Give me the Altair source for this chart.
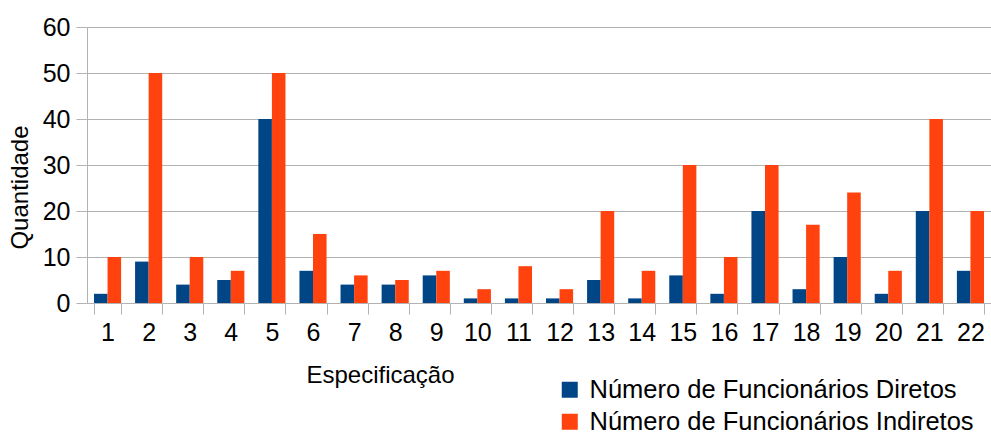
import altair as alt
import pandas as pd

specs = [str(i) for i in range(1, 23)]
diretos = [2, 9, 4, 5, 40, 7, 4, 4, 6, 1, 1, 1, 5, 1, 6, 2, 20, 3, 10, 2, 20, 7]
indiretos = [10, 50, 10, 7, 50, 15, 6, 5, 7, 3, 8, 3, 20, 7, 30, 10, 30, 17, 24, 7, 40, 20]
series = ["Número de Funcionários Diretos", "Número de Funcionários Indiretos"]
colors = ["#004586", "#ff420e"]

rows = []
for s, d, i in zip(specs, diretos, indiretos):
    rows.append({"spec": s, "serie": series[0], "value": d})
    rows.append({"spec": s, "serie": series[1], "value": i})
df = pd.DataFrame(rows)

FONT = "Liberation Sans"
GRID = "#b3b3b3"

chart = alt.Chart(df).mark_bar().encode(
    x=alt.X(
        "spec:N",
        sort=specs,
        scale=alt.Scale(paddingInner=0.34, paddingOuter=0.17),
        axis=alt.Axis(
            title="Especificação",
            labelAngle=0,
            labelFontSize=25,
            labelFont=FONT,
            labelColor="#000000",
            labelPadding=6,
            tickBand="extent",
            tickSize=11,
            tickColor=GRID,
            domainColor=GRID,
            titleFontSize=24,
            titleFont=FONT,
            titleFontWeight="normal",
            titleColor="#000000",
            titleX=293,
            titleY=79,
            titleAlign="center",
            titleBaseline="alphabetic",
        ),
    ),
    xOffset=alt.XOffset("serie:N", sort=series),
    y=alt.Y(
        "value:Q",
        scale=alt.Scale(domain=[0, 60]),
        axis=alt.Axis(
            title="Quantidade",
            values=[0, 10, 20, 30, 40, 50, 60],
            labelFontSize=25,
            labelFont=FONT,
            labelColor="#000000",
            labelPadding=6,
            tickSize=11,
            tickColor=GRID,
            domainColor=GRID,
            gridColor=GRID,
            titleFontSize=24,
            titleFont=FONT,
            titleFontWeight="normal",
            titleColor="#000000",
            titleX=-60,
            titleY=160,
            titleAngle=270,
            titleAlign="center",
            titleBaseline="alphabetic",
        ),
    ),
    color=alt.Color(
        "serie:N",
        sort=series,
        scale=alt.Scale(domain=series, range=colors),
        legend=alt.Legend(
            title=None,
            orient="none",
            legendX=470,
            legendY=350,
            padding=0,
            symbolType="square",
            symbolSize=256,
            symbolStrokeWidth=0,
            labelFontSize=25.5,
            labelFont=FONT,
            labelColor="#000000",
            labelOffset=7,
            rowPadding=5,
            labelLimit=600,
        ),
    ),
).properties(
    width=904,
    height=276,
    autosize="none",
    padding={"left": 87, "top": 27, "right": 0, "bottom": 131},
).configure_view(stroke=None)

chart.save("out.html", embed_options={"renderer": "svg", "actions": False})
